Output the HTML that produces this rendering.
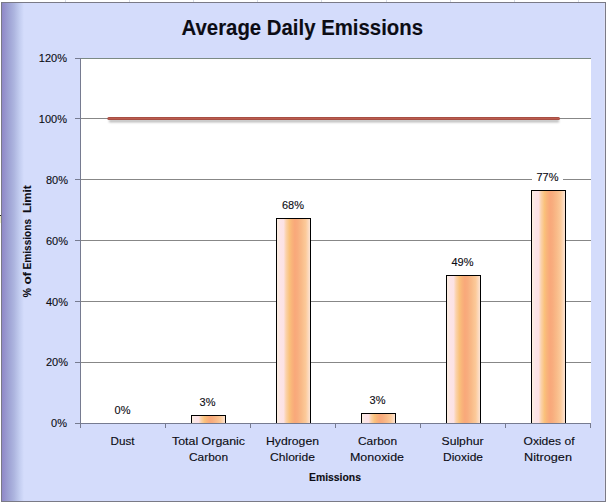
<!DOCTYPE html>
<html><head><meta charset="utf-8">
<style>
html,body{margin:0;padding:0;background:#fff;}
body{width:607px;height:502px;overflow:hidden;position:relative;}
svg{position:absolute;left:0;top:0;display:block;}
text{font-family:"Liberation Sans",sans-serif;fill:#0c0c14;stroke:#0c0c14;stroke-width:0.12px;}
</style></head>
<body>
<svg width="607" height="502" viewBox="0 0 607 502">
<defs>
<linearGradient id="side" x1="0" y1="0" x2="1" y2="0">
<stop offset="0" stop-color="#8f88c8"/>
<stop offset="0.12" stop-color="#9592cc"/>
<stop offset="0.3" stop-color="#9ea2d4"/>
<stop offset="0.55" stop-color="#adb5df"/>
<stop offset="0.8" stop-color="#c3cdf0"/>
<stop offset="1" stop-color="#d4dcfb"/>
</linearGradient>
<linearGradient id="bar" x1="0" y1="0" x2="1" y2="0">
<stop offset="0" stop-color="#fcefdf"/>
<stop offset="0.06" stop-color="#fcebe2"/>
<stop offset="0.12" stop-color="#fce4e8"/>
<stop offset="0.21" stop-color="#fce2e4"/>
<stop offset="0.28" stop-color="#fbd2ac"/>
<stop offset="0.38" stop-color="#fac27c"/>
<stop offset="0.45" stop-color="#f9b47a"/>
<stop offset="0.54" stop-color="#f9a87a"/>
<stop offset="0.62" stop-color="#f8ad7e"/>
<stop offset="0.74" stop-color="#f9bb89"/>
<stop offset="0.86" stop-color="#fcca9a"/>
<stop offset="0.95" stop-color="#fcdcc4"/>
<stop offset="1" stop-color="#fde8da"/>
</linearGradient>
</defs>
<!-- chart area -->
<rect x="1" y="2" width="605" height="500" fill="#7a7a86"/>
<rect x="2" y="3" width="603" height="498" fill="#d4dcfb"/>
<rect x="2" y="3" width="22" height="498" fill="url(#side)"/>
<rect x="604" y="3" width="1" height="498" fill="#dcdff6"/>
<rect x="0" y="215" width="1" height="1" fill="#222"/><rect x="0" y="216" width="1" height="7" fill="#eeeec8"/>
<g fill="#d6dbe6"><rect x="65" y="0" width="1" height="2"/><rect x="129" y="0" width="1" height="2"/><rect x="193" y="0" width="1" height="2"/><rect x="257" y="0" width="1" height="2"/><rect x="321" y="0" width="1" height="2"/><rect x="386" y="0" width="1" height="2"/><rect x="450" y="0" width="1" height="2"/><rect x="514" y="0" width="1" height="2"/><rect x="578" y="0" width="1" height="2"/></g>
<!-- title -->
<text x="302.3" y="35" text-anchor="middle" font-weight="bold" font-size="21.2" textLength="241.5" lengthAdjust="spacingAndGlyphs">Average Daily Emissions</text>
<!-- plot area -->
<rect x="81" y="58" width="510" height="365" fill="#ffffff"/>
<g stroke="#878787" stroke-width="1" shape-rendering="crispEdges">
<line x1="81" y1="58.5" x2="591" y2="58.5" stroke="#7b8a84"/>
<line x1="81" y1="118.5" x2="591" y2="118.5"/>
<line x1="81" y1="179.5" x2="591" y2="179.5"/>
<line x1="81" y1="240.5" x2="591" y2="240.5"/>
<line x1="81" y1="301.5" x2="591" y2="301.5"/>
<line x1="81" y1="362.5" x2="591" y2="362.5"/>
</g>
<!-- y labels -->
<g font-size="11" text-anchor="end">
<text x="67" y="62">120%</text>
<text x="67" y="123">100%</text>
<text x="68" y="184">80%</text>
<text x="68" y="245">60%</text>
<text x="68" y="306">40%</text>
<text x="68" y="366">20%</text>
<text x="67" y="427">0%</text>
</g>
<!-- y title -->
<text transform="translate(31,297.5) rotate(-90)" font-weight="bold" font-size="11" textLength="9.5" lengthAdjust="spacingAndGlyphs">%</text>
<text transform="translate(31,284.6) rotate(-90)" font-weight="bold" font-size="11" textLength="12.6" lengthAdjust="spacingAndGlyphs">of</text>
<text transform="translate(31,269.4) rotate(-90)" font-weight="bold" font-size="11" textLength="50.4" lengthAdjust="spacingAndGlyphs">Emissions</text>
<text transform="translate(31,213) rotate(-90)" font-weight="bold" font-size="11" textLength="27.5" lengthAdjust="spacingAndGlyphs">Limit</text>
<!-- bars -->
<g stroke="#000" stroke-width="1" shape-rendering="crispEdges">
<rect x="191.5" y="415.5" width="34" height="8" fill="url(#bar)"/>
<rect x="276.5" y="218.5" width="34" height="205" fill="url(#bar)"/>
<rect x="361.5" y="413.5" width="34" height="10" fill="url(#bar)"/>
<rect x="446.5" y="275.5" width="34" height="148" fill="url(#bar)"/>
<rect x="531.5" y="190.5" width="34" height="233" fill="url(#bar)"/>
</g>
<g stroke="#767b90" stroke-width="1" shape-rendering="crispEdges">
<line x1="75" y1="58.5" x2="80" y2="58.5"/>
<line x1="75" y1="118.5" x2="80" y2="118.5"/>
<line x1="75" y1="179.5" x2="80" y2="179.5"/>
<line x1="75" y1="240.5" x2="80" y2="240.5"/>
<line x1="75" y1="301.5" x2="80" y2="301.5"/>
<line x1="75" y1="362.5" x2="80" y2="362.5"/>
<line x1="75" y1="423.5" x2="591" y2="423.5"/>
<line x1="80.5" y1="58" x2="80.5" y2="428"/>
<line x1="165.5" y1="423" x2="165.5" y2="428"/>
<line x1="250.5" y1="423" x2="250.5" y2="428"/>
<line x1="335.5" y1="423" x2="335.5" y2="428"/>
<line x1="420.5" y1="423" x2="420.5" y2="428"/>
<line x1="505.5" y1="423" x2="505.5" y2="428"/>
<line x1="590.5" y1="423" x2="590.5" y2="428"/>
</g>
<!-- target line -->
<filter id="blur" filterUnits="userSpaceOnUse" x="100" y="110" width="470" height="20"><feGaussianBlur stdDeviation="0.9"/></filter>
<line x1="109" y1="121" x2="559" y2="121" stroke="#000" stroke-opacity="0.3" stroke-width="2.5" filter="url(#blur)"/>
<line x1="108.8" y1="118.5" x2="558.5" y2="118.5" stroke="#a84f44" stroke-width="3" stroke-linecap="round"/>
<line x1="108.5" y1="118.5" x2="559" y2="118.5" stroke="#bb5c4f" stroke-width="1"/>
<!-- data labels -->
<g font-size="11" text-anchor="middle">
<rect x="532" y="171" width="31" height="14" fill="#fff"/>
<text x="122.5" y="414">0%</text>
<text x="207.5" y="406">3%</text>
<text x="293" y="209">68%</text>
<text x="377.5" y="404">3%</text>
<text x="462.5" y="266">49%</text>
<text x="547.5" y="181">77%</text>
</g>
<!-- x labels -->
<g font-size="11" text-anchor="middle">
<text x="122.5" y="445" textLength="24" lengthAdjust="spacingAndGlyphs">Dust</text>
<text x="208.5" y="445" textLength="73" lengthAdjust="spacingAndGlyphs">Total Organic</text>
<text x="208.5" y="461" textLength="39" lengthAdjust="spacingAndGlyphs">Carbon</text>
<text x="292.5" y="445" textLength="53" lengthAdjust="spacingAndGlyphs">Hydrogen</text>
<text x="292.5" y="461" textLength="45" lengthAdjust="spacingAndGlyphs">Chloride</text>
<text x="377.5" y="445" textLength="39" lengthAdjust="spacingAndGlyphs">Carbon</text>
<text x="377" y="461" textLength="54" lengthAdjust="spacingAndGlyphs">Monoxide</text>
<text x="462.5" y="445" textLength="42" lengthAdjust="spacingAndGlyphs">Sulphur</text>
<text x="463" y="461" textLength="40" lengthAdjust="spacingAndGlyphs">Dioxide</text>
<text x="549" y="445" textLength="51" lengthAdjust="spacingAndGlyphs">Oxides of</text>
<text x="548" y="461" textLength="48" lengthAdjust="spacingAndGlyphs">Nitrogen</text>
</g>
<text x="335" y="481" text-anchor="middle" font-weight="bold" font-size="11" textLength="52" lengthAdjust="spacingAndGlyphs">Emissions</text>
</svg>
</body></html>
